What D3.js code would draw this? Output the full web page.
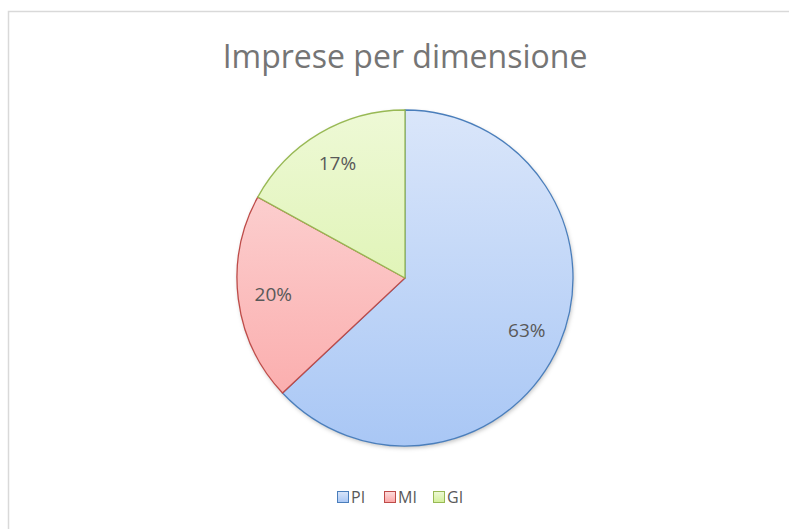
<!DOCTYPE html>
<html>
<head>
<meta charset="utf-8">
<script src="https://cdn.jsdelivr.net/npm/d3@7"></script>
<style>
  body { margin: 0; background: #fff; }
  svg { display: block; }
</style>
</head>
<body>
<script>
const categories = ['PI', 'MI', 'GI']
const values = [63, 20, 17]
const title = 'Imprese per dimensione'

const W = 789, H = 529
const FONT = '"Open Sans", sans-serif'

const palette = {
  PI: { top: '#dae6fa', bottom: '#a9c7f5', stroke: '#4a7ebb' },
  MI: { top: '#fcdcdc', bottom: '#fba6a6', stroke: '#be4b48' },
  GI: { top: '#eef9d6', bottom: '#d3ef9a', stroke: '#98b954' },
}

const cx = 405, cy = 278, R = 168

const svg = d3.select('body').append('svg')
  .attr('width', W)
  .attr('height', H)

const defs = svg.append('defs')

// gradients per slice, top light -> bottom darker (in pie-local coords)
categories.forEach(c => {
  const g = defs.append('linearGradient')
    .attr('id', `grad-${c}`)
    .attr('gradientUnits', 'userSpaceOnUse')
    .attr('x1', 0).attr('y1', -R)
    .attr('x2', 0).attr('y2', R)
  g.append('stop').attr('offset', '0%').attr('stop-color', palette[c].top)
  g.append('stop').attr('offset', '100%').attr('stop-color', palette[c].bottom)
})
// legend swatch gradients
categories.forEach(c => {
  const g = defs.append('linearGradient')
    .attr('id', `lgrad-${c}`)
    .attr('x1', 0).attr('y1', 0).attr('x2', 0).attr('y2', 1)
  g.append('stop').attr('offset', '0%').attr('stop-color', palette[c].top)
  g.append('stop').attr('offset', '100%').attr('stop-color', palette[c].bottom)
})

const shadow = defs.append('filter').attr('id', 'shadow')
  .attr('x', '-10%').attr('y', '-10%').attr('width', '120%').attr('height', '120%')
shadow.append('feDropShadow')
  .attr('dx', 1).attr('dy', 2).attr('stdDeviation', 2)
  .attr('flood-color', '#000').attr('flood-opacity', 0.25)

// chart border (runs off right/bottom edges)
svg.append('rect')
  .attr('x', 8.5).attr('y', 11.5)
  .attr('width', 800).attr('height', 540)
  .attr('fill', '#fff')
  .attr('stroke', '#d9d9d9')
  .attr('stroke-width', 1.5)

svg.append('text')
  .attr('x', 405).attr('y', 68)
  .attr('text-anchor', 'middle')
  .style('font-family', FONT)
  .style('font-size', '32px')
  .attr('fill', '#757575')
  .text(title)

const pie = d3.pie().sort(null).value(d => d.value)
const data = categories.map((c, i) => ({ cat: c, value: values[i] }))
const arcs = pie(data)
const arc = d3.arc().innerRadius(0).outerRadius(R)
const labelArc = d3.arc().innerRadius(R * 0.79).outerRadius(R * 0.79)

const g = svg.append('g').attr('transform', `translate(${cx},${cy})`)

g.append('circle').attr('r', R).attr('fill', '#fff').attr('filter', 'url(#shadow)')

g.selectAll('path')
  .data(arcs)
  .join('path')
  .attr('d', arc)
  .attr('fill', d => `url(#grad-${d.data.cat})`)
  .attr('stroke', d => palette[d.data.cat].stroke)
  .attr('stroke-width', 1.3)

const total = d3.sum(values)
g.selectAll('text.lbl')
  .data(arcs)
  .join('text')
  .classed('lbl', true)
  .attr('transform', d => `translate(${labelArc.centroid(d)})`)
  .attr('text-anchor', 'middle')
  .attr('dy', '0.35em')
  .style('font-family', FONT)
  .style('font-size', '19px')
  .attr('fill', '#595959')
  .text(d => `${Math.round(d.data.value / total * 100)}%`)

// legend
const legendX = [337, 384, 433]
const legend = svg.append('g')
legend.selectAll('g')
  .data(categories)
  .join('g')
  .attr('transform', (d, i) => `translate(${legendX[i]},491)`)
  .call(sel => {
    sel.append('rect')
      .attr('x', 0.5).attr('y', 0.5)
      .attr('width', 11).attr('height', 11)
      .attr('fill', d => `url(#lgrad-${d})`)
      .attr('stroke', d => palette[d].stroke)
      .attr('stroke-width', 1)
    sel.append('text')
      .attr('x', 14).attr('y', 12)
      .style('font-family', FONT)
      .style('font-size', '16px')
      .attr('fill', '#595959')
      .text(d => d)
  })
</script>
</body>
</html>
